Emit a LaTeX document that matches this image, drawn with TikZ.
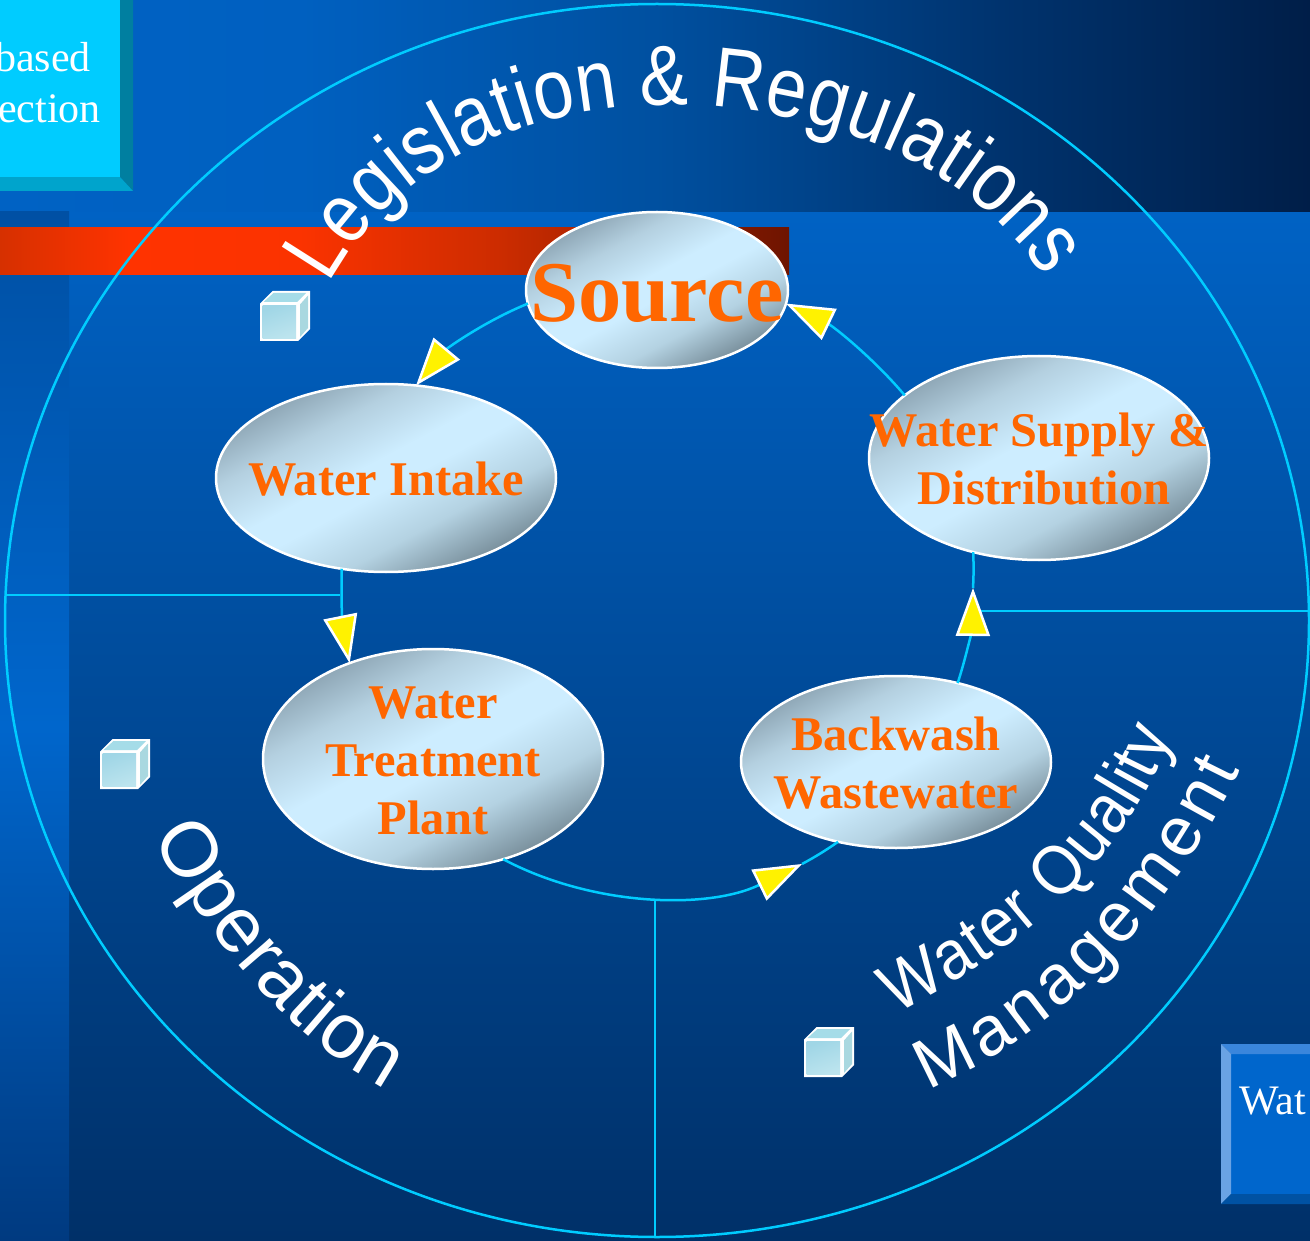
\documentclass[tikz,border=0pt]{standalone}
\usepackage{fontspec}
\setmainfont{Liberation Serif}
\newfontfamily\arialfont{Liberation Sans}
\newfontfamily\arialnarrow{Liberation Sans}[FakeStretch=0.85]
\newfontfamily\arialmid{Liberation Sans}[FakeStretch=0.9]
\usetikzlibrary{shapes.geometric,arrows.meta,decorations.text}
\definecolor{ringc}{HTML}{00CCFF}
\definecolor{orangec}{HTML}{FF6600}
\definecolor{b1}{HTML}{0062C4}
\definecolor{b2}{HTML}{0060C0}
\definecolor{b3}{HTML}{0050A0}
\definecolor{b4}{HTML}{00336E}
\definecolor{b5}{HTML}{001E48}
\definecolor{m1}{HTML}{003068}
\definecolor{s1}{HTML}{0050A4}
\definecolor{s2}{HTML}{0066CC}
\definecolor{s3}{HTML}{003A80}
\definecolor{r1}{HTML}{D63000}
\definecolor{r2}{HTML}{FF3300}
\definecolor{r3}{HTML}{FB3300}
\definecolor{r4}{HTML}{CC2C00}
\definecolor{r5}{HTML}{6E1400}
\definecolor{e1}{HTML}{6F8490}
\definecolor{e2}{HTML}{B4D2E2}
\definecolor{e3}{HTML}{CDEDFF}
\definecolor{e4}{HTML}{B4D0E0}
\definecolor{e5}{HTML}{7F96A5}
\definecolor{bevr}{HTML}{007FA0}
\definecolor{bevb}{HTML}{00A4CC}
\definecolor{topbev}{HTML}{3A86DC}
\definecolor{leftbev}{HTML}{6AA3E4}
\definecolor{botbev}{HTML}{0052A3}
\definecolor{cubetop}{HTML}{A5DCE8}
\definecolor{cubeside}{HTML}{A9D8E0}
\definecolor{cubea}{HTML}{A0D6E6}
\definecolor{cubeb}{HTML}{BCE4EE}
\pgfdeclarehorizontalshading{topband}{100bp}{color(0bp)=(b1);color(25bp)=(b1);color(36.5bp)=(b2);color(50bp)=(b3);color(63.2bp)=(b4);color(75bp)=(b5);color(100bp)=(b5)}
\pgfdeclarehorizontalshading{redbar}{100bp}{color(0bp)=(r1);color(25bp)=(r1);color(33.2bp)=(r2);color(44bp)=(r3);color(56.7bp)=(r4);color(75bp)=(r5);color(100bp)=(r5)}
\pgfdeclareverticalshading{mainbg}{100bp}{color(0bp)=(m1);color(25bp)=(m1);color(75bp)=(b1);color(100bp)=(b1)}
\pgfdeclareverticalshading{stripbg}{100bp}{color(0bp)=(s3);color(25bp)=(s3);color(50bp)=(s2);color(75bp)=(s1);color(100bp)=(s1)}
\pgfdeclareverticalshading{ellshade}{100bp}{color(0bp)=(e1);color(24bp)=(e1);color(37bp)=(e2);color(48bp)=(e3);color(54bp)=(e3);color(65bp)=(e4);color(78bp)=(e5);color(100bp)=(e5)}
\tikzset{
  ringline/.style={draw=ringc,line width=2.5pt},
  divider/.style={draw=ringc,line width=2pt},
  flow/.style={ringline,looseness=.88},
  flowtip/.style={-{Triangle[length=48pt,width=34pt,fill=yellow,color=white,line width=2.5pt]}},
  bubble/.style={ellipse,shading=ellshade,shading angle=28,draw=white,line width=2.5pt,inner sep=0pt,outer sep=0pt},
  lbl/.style={text=orangec,align=center,inner sep=0pt,yshift=-1pt,font=\bfseries\fontsize{48.4}{58}\selectfont},
  boxtext/.style={text=white,inner sep=0pt,font=\fontsize{42}{42}\selectfont},
  cubeicon/.pic={
    \fill[fill=white] (0,12.5)--(12.5,0)--(50,0)--(50,38)--(38,50)--(0,50)--cycle;
    \fill[fill=cubetop] (3.5,11)--(13.5,2)--(46,2)--(37,11)--cycle;
    \fill[fill=cubeside] (40,13.5)--(48,4.5)--(48,37)--(40,46)--cycle;
    \shade[left color=cubea,right color=cubeb,shading angle=20] (2.5,14.5)rectangle(36,47.5);
  }
}
\begin{document}
\begin{tikzpicture}[x=1pt,y=-1pt]
\useasboundingbox (0,0) rectangle (1310,1241);
\clip (0,0) rectangle (1310,1241);
% backgrounds
\shade[shading=mainbg] (0,212) rectangle (1310,1241);
\shade[shading=topband] (0,0) rectangle (1310,212);
\shade[shading=stripbg] (0,212) rectangle (69,1241);
\shade[shading=redbar] (0,228) rectangle (789,275);
% left box
\fill[fill=bevr] (120,0)--(133,0)--(133,191)--(120,177)--cycle;
\fill[fill=bevb] (0,177)--(120,177)--(133,191)--(0,191)--cycle;
\fill[fill=ringc] (0,0) rectangle (120,177);
\node[boxtext,anchor=base east] (boxa) at (91,72) {based};
\node[boxtext,anchor=base east] (boxb) at (101,123) {ection};
% right box
\fill[fill=s2] (1231,1054) rectangle (1310,1194);
\fill[fill=topbev] (1221,1044)--(1310,1044)--(1310,1054)--(1231,1054)--cycle;
\fill[fill=leftbev] (1221,1044)--(1231,1054)--(1231,1194)--(1221,1204)--cycle;
\fill[fill=botbev] (1221,1204)--(1231,1194)--(1310,1194)--(1310,1204)--cycle;
\node[boxtext,anchor=base west] (boxc) at (1239,1114) {Wat};
% outer circle and dividers
\node[ellipse,draw=ringc,line width=2.5pt,minimum width=1304pt,minimum height=1233pt,inner sep=0pt,outer sep=0pt] (outer) at (657,620.5) {};
\coordinate (dl1) at (6,595);\coordinate (dl2) at (340,595);
\coordinate (dr1) at (972,611);\coordinate (dr2) at (1308,611);
\coordinate (db1) at (655,900);\coordinate (db2) at (655,1236);
\draw[divider] (dl1)--(dl2);
\draw[divider] (dr1)--(dr2);
\draw[divider] (db1)--(db2);
% arced titles
\path[decorate,decoration={text along path,text align={fit to path},text={|\arialnarrow\fontsize{85}{85}\selectfont\color{white}|Legislation {\&} Regulations}}]
  (329,284) .. controls (395,165) and (520,106) .. (670,105) .. controls (800,105) and (960,150) .. (1045,278);
\path[decorate,decoration={text along path,text align={fit to path},text={|\arialfont\fontsize{78}{78}\selectfont\color{white}|Operation}}]
  (152,837) .. controls (208,940) and (290,1038) .. (386,1089);
\path[decorate,decoration={text along path,text align={fit to path},text={|\arialmid\fontsize{70}{70}\selectfont\color{white}|Water Quality}}]
  (896,1014) .. controls (1000,960) and (1120,875) .. (1172,735);
\path[decorate,decoration={text along path,text align={fit to path},text={|\arialfont\fontsize{70}{70}\selectfont\color{white}|Management}}]
  (928,1090) .. controls (1050,1040) and (1165,925) .. (1240,770);
% cubes
\pic at (260,291) {cubeicon};
\pic at (100,739) {cubeicon};
\pic at (804,1027) {cubeicon};
% nodes
\node[bubble,minimum width=262pt,minimum height=156pt,label={[lbl,font=\bfseries\fontsize{86.5}{86.5}\selectfont,yshift=-2pt]center:Source}] (source) at (657,290) {};
\node[bubble,minimum width=340pt,minimum height=188pt,label={[lbl]center:Water Intake}] (intake) at (386,478) {};
\node[bubble,minimum width=340pt,minimum height=220pt,label={[lbl,yshift=-1pt]center:Water\\Treatment\\Plant}] (plant) at (433,759) {};
\node[bubble,minimum width=310pt,minimum height=172pt,label={[lbl]center:Backwash\\Wastewater}] (backwash) at (896,762) {};
\node[bubble,minimum width=340pt,minimum height=204pt,label={[lbl]center:Water Supply \&\\\hspace*{10pt}Distribution}] (supply) at (1039,458) {};
% connectors
\coordinate (tipa) at (802,864);
\coordinate (tipb) at (973,588);
\draw[flow,flowtip] (source.186) to[bend right=14] (intake.72);
\draw[flow,flowtip] (intake.244) to[bend right=6.5] (plant.131);
\draw[flow,flowtip] (plant.-55) to[bend right=27] (tipa);
\draw[flow] (tipa) to[bend right=3.5] (backwash.234);
\draw[flow,flowtip] (backwash.52) to[bend right=9] (tipb);
\draw[flow] (tipb) to[bend right=3] (supply.235);
\draw[flow,flowtip] (supply.155) to[bend right=12] (source.-6.5);
\end{tikzpicture}
\end{document}
